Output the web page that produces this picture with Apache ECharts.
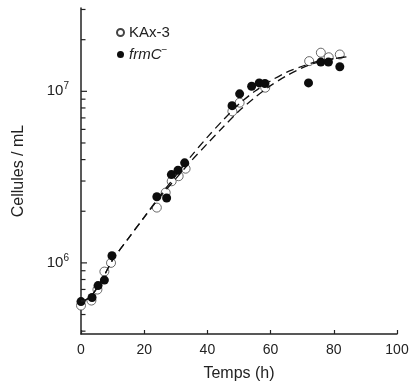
<!DOCTYPE html>
<html lang="fr">
  <head>
    <meta charset="UTF-8" />
    <title>Croissance</title>
    <style>
      * {
        padding: 0;
        margin: 0;
      }
      html,
      body {
        width: 100%;
        height: 100%;
        background: #fff;
      }
      #main {
        width: 414px;
        height: 392px;
      }
    </style>
  </head>
  <body>
    <div id="main"></div>
    <script src="https://cdn.jsdelivr.net/npm/echarts@6/dist/echarts.min.js"></script>
    <script>
      // KAx-3 (cercles vides)
      var kaxTimes = [0, 3.3, 5.2, 7.4, 9.5, 24.0, 26.8, 28.7, 30.9, 33.1, 47.9, 50.2, 58.3, 72.2, 75.9, 78.4, 81.9];
      var kaxCells = [5.64e5, 6.03e5, 6.99e5, 8.9e5, 1.0e6, 2.1e6, 2.57e6, 2.99e6, 3.2e6, 3.54e6, 7.64e6, 8.59e6, 1.05e7, 1.5e7, 1.68e7, 1.58e7, 1.64e7];
      // frmC- (cercles pleins)
      var frmTimes = [0, 3.5, 5.4, 7.4, 9.8, 24.0, 27.1, 28.6, 30.7, 32.8, 47.8, 50.2, 54.0, 56.4, 58.2, 72.0, 75.9, 78.3, 81.9];
      var frmCells = [5.95e5, 6.28e5, 7.37e5, 7.94e5, 1.1e6, 2.43e6, 2.39e6, 3.27e6, 3.47e6, 3.83e6, 8.25e6, 9.67e6, 1.07e7, 1.12e7, 1.11e7, 1.12e7, 1.48e7, 1.48e7, 1.39e7];
      // courbes ajustees
      var fitTimes = [0, 3, 6, 10, 15, 20, 25, 30, 35, 40, 45, 50, 55, 60, 65, 70, 75, 80, 84];
      var fitUpper = [5.9e5, 6.35e5, 7.6e5, 1.04e6, 1.39e6, 1.85e6, 2.46e6, 3.23e6, 4.22e6, 5.41e6, 6.81e6, 8.43e6, 1.0e7, 1.15e7, 1.29e7, 1.4e7, 1.5e7, 1.55e7, 1.59e7];
      var fitLower = [5.9e5, 6.35e5, 7.6e5, 1.04e6, 1.39e6, 1.84e6, 2.42e6, 3.1e6, 3.95e6, 4.96e6, 6.2e6, 7.67e6, 9.2e6, 1.08e7, 1.23e7, 1.37e7, 1.48e7, 1.55e7, 1.59e7];
      // graduations de l'axe y
      var yMajorTicks = [1e6, 1e7];
      var yMinorTicks = [4e5, 5e5, 6e5, 7e5, 8e5, 9e5, 2e6, 3e6, 4e6, 5e6, 6e6, 7e6, 8e6, 9e6, 2e7, 3e7];

      var myChart = echarts.init(document.getElementById('main'));

      function zip(xs, ys) {
        return xs.map(function(x, i) {
          return [x, ys[i]];
        });
      }

      function tickSeries(values, len) {
        return {
          type: 'custom',
          silent: true,
          z: 5,
          data: values.map(function(v) {
            return [0, v];
          }),
          renderItem: function(params, api) {
            var p = api.coord([0, api.value(1)]);
            return {
              type: 'line',
              shape: {x1: p[0], y1: p[1], x2: p[0] + len, y2: p[1]},
              style: {stroke: '#222', lineWidth: 1.2},
            };
          },
        };
      }

      var fitLine = {
        type: 'line',
        showSymbol: false,
        smooth: 0.3,
        silent: true,
        z: 3,
        lineStyle: {color: '#111', width: 1.3, type: [8, 5]},
      };

      var option = {
        animation: false,
        textStyle: {fontFamily: 'Liberation Sans, Arial, sans-serif'},
        grid: {left: 81, right: 17, top: 8, bottom: 58},
        legend: {
          left: 111,
          top: 20,
          orient: 'vertical',
          itemWidth: 7,
          itemHeight: 7,
          itemGap: 5,
          icon: 'circle',
          data: ['KAx-3', 'frmC'],
          formatter: function(name) {
            return name === 'frmC' ? '{i|frmC}{s|−}' : name;
          },
          textStyle: {
            fontSize: 15,
            color: '#222',
            rich: {
              i: {fontSize: 15, fontStyle: 'italic', color: '#222'},
              s: {fontSize: 10, color: '#222', padding: [0, 0, 9, 0]},
            },
          },
        },
        xAxis: {
          type: 'value',
          min: 0,
          max: 100,
          interval: 20,
          name: 'Temps (h)',
          nameLocation: 'middle',
          nameGap: 32,
          nameTextStyle: {fontSize: 16, color: '#222'},
          splitLine: {show: false},
          axisLine: {lineStyle: {color: '#222', width: 1.5}},
          axisTick: {inside: true, length: 4, lineStyle: {color: '#222', width: 1.2}},
          axisLabel: {fontSize: 14, color: '#222', margin: 9},
        },
        yAxis: {
          type: 'log',
          logBase: 10,
          min: 3.85e5,
          max: 3.06e7,
          name: 'Cellules / mL',
          nameLocation: 'middle',
          nameGap: 54,
          nameTextStyle: {fontSize: 16, color: '#222'},
          splitLine: {show: false},
          axisLine: {show: true, lineStyle: {color: '#222', width: 1.5}},
          axisTick: {show: false},
          axisLabel: {
            margin: 12,
            formatter: function(v) {
              var e = Math.log10(v);
              if (Math.abs(e - Math.round(e)) > 1e-6) return '';
              return '{b|10}{e|' + Math.round(e) + '}';
            },
            rich: {
              b: {fontSize: 15, color: '#222'},
              e: {fontSize: 10, color: '#222', padding: [0, 0, 10, 0]},
            },
          },
        },
        series: [
          tickSeries(yMajorTicks, 6),
          tickSeries(yMinorTicks, 4.5),
          Object.assign({}, fitLine, {data: zip(fitTimes, fitUpper)}),
          Object.assign({}, fitLine, {data: zip(fitTimes, fitLower)}),
          {
            name: 'KAx-3',
            type: 'scatter',
            clip: false,
            z: 2,
            symbolSize: 9,
            itemStyle: {color: '#fff', borderColor: '#444', borderWidth: 0.8, opacity: 1},
            data: zip(kaxTimes, kaxCells),
          },
          {
            name: 'frmC',
            type: 'scatter',
            clip: false,
            z: 4,
            symbolSize: 9,
            itemStyle: {color: '#0d0d0d', opacity: 1},
            data: zip(frmTimes, frmCells),
          },
        ],
      };
      myChart.setOption(option);
    </script>
  </body>
</html>
